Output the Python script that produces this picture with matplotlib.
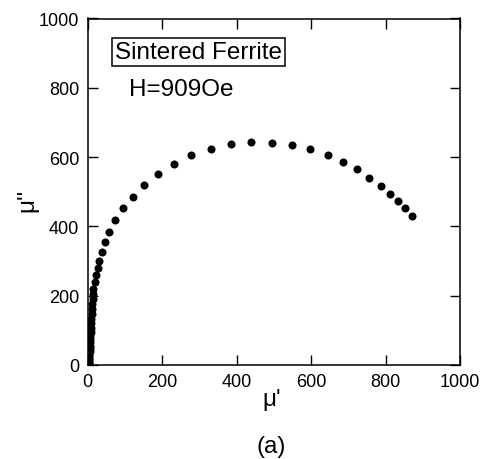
import matplotlib
matplotlib.use("Agg")
import matplotlib.pyplot as plt

plt.rcParams['font.family'] = ['Liberation Sans', 'DejaVu Sans']

mu_real = [872, 853, 833, 811, 787, 756, 724, 686, 646, 598, 548, 494, 440, 386,
           331, 279, 233, 189, 152, 122, 95, 75, 59, 47, 38, 32, 27, 23, 19, 16,
           15, 14, 13, 12, 11, 10, 9.5, 9, 8.5, 8, 7.5, 7, 6.5, 6, 5.5, 5, 4.5,
           4, 4, 3.5, 3.5]
mu_imag = [431, 452, 473, 493, 518, 541, 565, 587, 606, 623, 636, 642, 644, 638,
           624, 606, 581, 550, 519, 485, 452, 418, 385, 355, 327, 301, 280, 260,
           239, 220, 205, 190, 176, 162, 148, 134, 121, 108, 96, 85, 75, 65, 56,
           48, 40, 33, 26, 20, 14, 9, 5]

xticks = [0, 200, 400, 600, 800, 1000]
yticks = [0, 200, 400, 600, 800, 1000]

fig = plt.figure(figsize=(4.82, 4.60), dpi=100)
ax = fig.add_axes([87.5/482, 1-366/460, (460-87.5)/482, (366-19.5)/460])
ax.plot(mu_real, mu_imag, 'o', color='black', markersize=5.8, markeredgewidth=0)
ax.set_xlim(0, 1000)
ax.set_ylim(0, 1000)
ax.set_xticks(xticks)
ax.set_yticks(yticks)
ax.tick_params(direction='in', length=7, width=1, top=True, right=True,
               labelsize=13, pad=6)
for s in ax.spines.values():
    s.set_linewidth(1.1)

ax.text(0.299, 0.903, 'Sintered Ferrite', transform=ax.transAxes, fontsize=17.5,
        ha='center', va='center',
        bbox=dict(boxstyle='square,pad=0.12', facecolor='white', edgecolor='black', linewidth=1.1))
ax.text(0.251, 0.797, 'H=909Oe', transform=ax.transAxes, fontsize=17.5,
        ha='center', va='center')

fig.text(272/482, 1-400/460, "μ'", fontsize=17.5, ha='center', va='center')
fig.text(27/482, 1-200/460, "μ''", fontsize=17.5, ha='center', va='center', rotation=90)
fig.text(271/482, 1-447/460, "(a)", fontsize=17.5, ha='center', va='center')

fig.savefig('out.png', dpi=100)
